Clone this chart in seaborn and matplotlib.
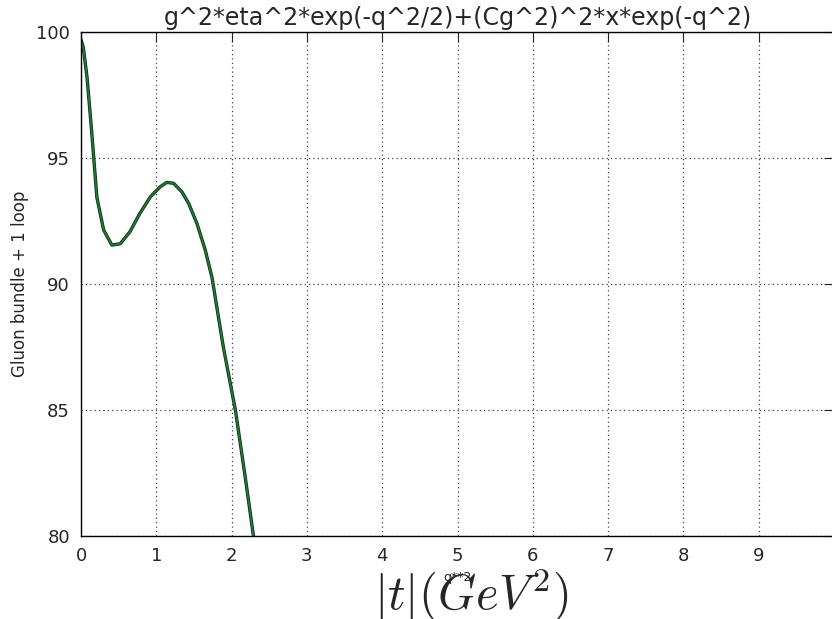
import numpy as np
import pandas as pd
import matplotlib
matplotlib.use("Agg")
import matplotlib.pyplot as plt
import seaborn as sns

# values
q2 = [0.0, 0.03, 0.08, 0.14, 0.21, 0.30, 0.41, 0.52, 0.65, 0.78, 0.92, 1.05,
      1.14, 1.23, 1.34, 1.43, 1.54, 1.65, 1.74, 1.89, 2.05, 2.18, 2.29, 2.40]
gluon = [99.7, 99.4, 98.2, 96.1, 93.45, 92.15, 91.55, 91.6, 92.08, 92.8, 93.46, 93.86,
         94.04, 94.0, 93.66, 93.2, 92.4, 91.35, 90.25, 87.5, 85.0, 82.35, 80.0, 77.4]
xticks = list(range(10))
yticks = [80, 85, 90, 95, 100]

df = pd.DataFrame({"q2": q2, "val": gluon})

sns.set_style("white")
plt.rcParams['font.family'] = ['DejaVu Sans']
plt.rcParams['mathtext.fontset'] = 'cm'

fig = plt.figure(figsize=(8.32, 6.19), dpi=100)
ax = fig.add_axes([0.0974, 0.134, 0.905, 0.814])

# dark outline under a green line, like the original
sns.lineplot(data=df, x="q2", y="val", color="#0d2a14", linewidth=2.4, ax=ax, sort=False)
sns.lineplot(data=df, x="q2", y="val", color="#1e7a35", linewidth=1.3, ax=ax, sort=False)

ax.set_xlim(0, 10)
ax.set_ylim(80, 100)
ax.set_xticks(xticks)
ax.set_yticks(yticks)
ax.grid(True, linestyle=(0, (1, 2.5)), color="0.25", linewidth=0.9)
ax.tick_params(direction="in", length=7, top=True, right=True, labelsize=13, pad=8)
for s in ax.spines.values():
    s.set_linewidth(1.0)
    s.set_color("black")

ax.set_title("g^2*eta^2*exp(-q^2/2)+(Cg^2)^2*x*exp(-q^2)", fontsize=17.1, pad=5)
ax.set_xlabel("q**2", fontsize=9, labelpad=4)
ax.set_ylabel("Gluon bundle + 1 loop", fontsize=12,
              family=['Liberation Sans Narrow', 'DejaVu Sans'], labelpad=5)

fig.text(0.567, 0.040, r"$|t|(GeV^2)$", fontsize=35, ha="center", va="center")

fig.savefig("out.png", dpi=100)
